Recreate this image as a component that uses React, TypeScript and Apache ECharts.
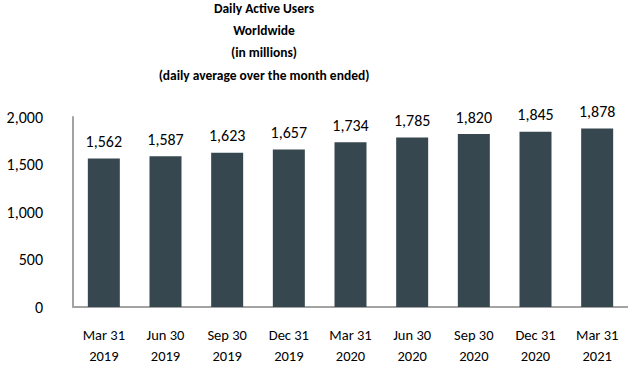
import React, { useEffect, useRef } from "react";
import * as echarts from "echarts";

const categories = [
  "Mar 31\n2019",
  "Jun 30\n2019",
  "Sep 30\n2019",
  "Dec 31\n2019",
  "Mar 31\n2020",
  "Jun 30\n2020",
  "Sep 30\n2020",
  "Dec 31\n2020",
  "Mar 31\n2021",
];
const dau = [1562, 1587, 1623, 1657, 1734, 1785, 1820, 1845, 1878];
const titleLines = [
  "Daily Active Users",
  "Worldwide",
  "(in millions)",
  "(daily average over the month ended)",
];

const FONT = "Carlito, Lato, 'Open Sans', sans-serif";

export default function App() {
  const ref = useRef<HTMLDivElement>(null);
  useEffect(() => {
    if (!ref.current) return;
    const chart = echarts.init(ref.current, undefined, { renderer: "svg" });
    chart.setOption({
      animation: false,
      graphic: [
        {
          type: "text",
          x: 264,
          y: -3,
          style: {
            text: titleLines.join("\n"),
            fontFamily: FONT,
            fontWeight: "bold",
            fontSize: 13.5,
            lineHeight: 22.3,
            fill: "#000",
            textAlign: "center",
            textVerticalAlign: "top",
          },
        },
      ],
      grid: { left: 73, right: 0, top: 117, bottom: 53, containLabel: false },
      xAxis: {
        type: "category",
        data: categories,
        axisLine: { show: true, lineStyle: { color: "#a3a3a3", width: 2 } },
        axisTick: { show: false },
        axisLabel: {
          color: "#000",
          fontFamily: FONT,
          fontSize: 14.5,
          lineHeight: 21,
          margin: 17,
          interval: 0,
        },
      },
      yAxis: {
        type: "value",
        min: 0,
        max: 2000,
        interval: 500,
        splitLine: { show: false },
        axisLine: { show: true, lineStyle: { color: "#a3a3a3", width: 2 } },
        axisTick: { show: false },
        axisLabel: {
          color: "#000",
          fontFamily: FONT,
          fontSize: 16,
          margin: 30,
          formatter: (v: number) => v.toLocaleString("en-US"),
        },
      },
      series: [
        {
          type: "bar",
          data: dau,
          barWidth: 32,
          itemStyle: { color: "#36474f" },
          label: {
            show: true,
            position: "top",
            distance: 9,
            color: "#000",
            fontFamily: FONT,
            fontSize: 16,
            formatter: (p: any) => Number(p.value).toLocaleString("en-US"),
          },
        },
      ],
    });
    return () => chart.dispose();
  }, []);
  return <div ref={ref} style={{ width: 628, height: 366, position: "absolute", left: 0, top: 0 }} />;
}
